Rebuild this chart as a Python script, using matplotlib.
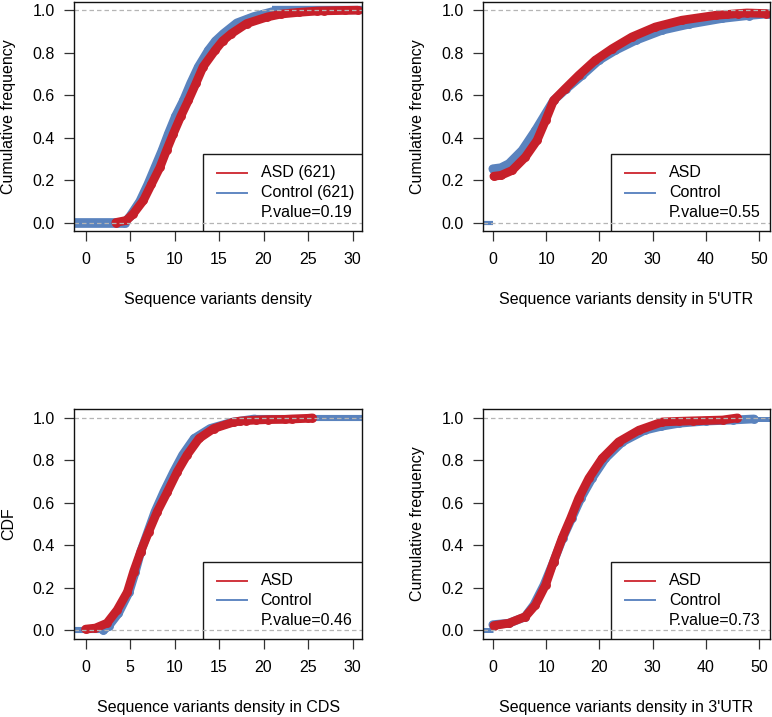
import matplotlib
matplotlib.use("Agg")
import matplotlib.pyplot as plt
from matplotlib.patches import Rectangle

plt.rcParams['font.family'] = ['Liberation Sans', 'DejaVu Sans']

RED = "#C7202A"
BLUE = "#5A83BE"

# ---------------- data ----------------
# Panel 1: Sequence variants density
p1_asd_x = [3.4, 4.6, 5.36, 6.5, 7.4, 8.36, 9.1, 9.86, 10.7, 11.55, 12.4, 13.2, 14.55, 15.4, 16.4, 18.1, 20.4, 22.0, 24.0, 26.0, 26.8, 29.2, 30.6]
p1_asd_y = [0.0, 0.01, 0.041, 0.104, 0.18, 0.26, 0.34, 0.418, 0.50, 0.575, 0.655, 0.733, 0.811, 0.855, 0.89, 0.937, 0.968, 0.982, 0.99, 0.996, 0.997, 0.999, 1.0]
p1_ctl_x = [4.4, 5.0, 6.1, 7.0, 7.8, 8.6, 9.3, 10.1, 11.0, 11.8, 12.67, 13.8, 14.6, 15.5, 17.0, 18.9, 21.0]
p1_ctl_y = [0.0, 0.03, 0.10, 0.18, 0.26, 0.34, 0.418, 0.50, 0.575, 0.655, 0.733, 0.811, 0.855, 0.89, 0.94, 0.97, 0.993]

# Panel 2: 5'UTR
p2_asd_x = [0.2, 1.5, 3.6, 6.1, 8.3, 9.9, 11.4, 13.6, 16.1, 19.2, 22.4, 26.1, 30.5, 35.5, 41.8, 44.0, 46.0, 47.7, 51.3]
p2_asd_y = [0.218, 0.222, 0.245, 0.308, 0.387, 0.481, 0.575, 0.631, 0.693, 0.764, 0.819, 0.874, 0.921, 0.953, 0.976, 0.98, 0.984, 0.987, 0.984]
p2_ctl_x = [0.0, 1.5, 3.0, 5.5, 8.0, 9.9, 11.4, 13.8, 16.75, 19.9, 23.0, 26.8, 31.8, 36.8, 43.0, 48.0, 51.8]
p2_ctl_y = [0.253, 0.258, 0.277, 0.34, 0.434, 0.513, 0.575, 0.63, 0.693, 0.764, 0.811, 0.858, 0.906, 0.934, 0.961, 0.975, 0.983]

# Panel 3: CDS
p3_asd_x = [0.0, 1.1, 2.4, 3.55, 4.7, 5.4, 6.2, 7.1, 8.05, 9.2, 10.3, 11.4, 12.75, 14.4, 16.7, 17.4, 18.0, 19.2, 20.5, 22.4, 23.2, 25.0, 25.5]
p3_asd_y = [0.005, 0.01, 0.033, 0.095, 0.18, 0.276, 0.37, 0.464, 0.558, 0.652, 0.746, 0.825, 0.903, 0.95, 0.981, 0.985, 0.987, 0.99, 0.992, 0.993, 0.995, 0.998, 1.0]
p3_ctl_x = [2.0, 2.6, 3.7, 4.9, 5.6, 6.2, 7.0, 7.8, 8.8, 9.9, 10.9, 12.2, 14.0, 16.5, 19.0]
p3_ctl_y = [0.0, 0.02, 0.08, 0.18, 0.276, 0.37, 0.464, 0.558, 0.652, 0.746, 0.825, 0.903, 0.95, 0.98, 0.995]

# Panel 4: 3'UTR
p4_asd_x = [0.2, 3.0, 6.1, 8.0, 9.9, 11.4, 13.0, 14.6, 16.1, 18.0, 20.5, 23.6, 27.4, 31.8, 35.0, 37.5, 43.1, 45.9]
p4_asd_y = [0.022, 0.033, 0.064, 0.119, 0.213, 0.323, 0.433, 0.527, 0.621, 0.715, 0.809, 0.887, 0.942, 0.981, 0.984, 0.986, 0.99, 1.0]
p4_ctl_x = [0.0, 3.0, 6.0, 7.7, 9.6, 11.4, 13.1, 14.8, 16.5, 18.6, 21.1, 24.3, 28.5, 31.5, 35.0, 40.0, 45.0, 49.0]
p4_ctl_y = [0.026, 0.033, 0.062, 0.119, 0.213, 0.323, 0.433, 0.527, 0.621, 0.715, 0.809, 0.887, 0.942, 0.96, 0.975, 0.985, 0.99, 0.995]

x_labels = ["Sequence variants density", "Sequence variants density in 5'UTR",
            "Sequence variants density in CDS", "Sequence variants density in 3'UTR"]
y_labels = ["Cumulative frequency", "Cumulative frequency", "CDF", "Cumulative frequency"]
legend_names = [["ASD (621)", "Control (621)"], ["ASD", "Control"], ["ASD", "Control"], ["ASD", "Control"]]
p_values = ["0.19", "0.55", "0.46", "0.73"]
x_ticks = [[0, 5, 10, 15, 20, 25, 30], [0, 10, 20, 30, 40, 50],
           [0, 5, 10, 15, 20, 25, 30], [0, 10, 20, 30, 40, 50]]
y_ticks = [0.0, 0.2, 0.4, 0.6, 0.8, 1.0]

asd_series = [(p1_asd_x, p1_asd_y), (p2_asd_x, p2_asd_y), (p3_asd_x, p3_asd_y), (p4_asd_x, p4_asd_y)]
ctl_series = [(p1_ctl_x, p1_ctl_y), (p2_ctl_x, p2_ctl_y), (p3_ctl_x, p3_ctl_y), (p4_ctl_x, p4_ctl_y)]

# ---------------- layout ----------------
fig = plt.figure(figsize=(7.72, 7.17), dpi=100)
W, H = 772, 717
boxes = [(74, 231, 288.3), (482.7, 231, 287.3), (74, 638.7, 288.3), (482.7, 638.7, 287.3)]
ax_h = 229.3
xlims = [(-1.3, 31.1), (-1.9, 52.0), (-1.3, 31.1), (-1.9, 52.0)]
ext_left_lw = [7.0, 3.0, 4.4, 3.6]
ext_right = [True, False, True, True]
ext_right_level = [1.0, None, 1.0, 0.995]
ext_right_lw = [6.0, 0, 4.4, 3.6]

FS = 11.5
LW = 6.3
MS = 6.4

for i in range(4):
    left, bottom, width = boxes[i]
    ax = fig.add_axes([left / W, (H - bottom) / H, width / W, ax_h / H])
    ax.set_xlim(*xlims[i])
    ax.set_ylim(-0.04, 1.04)

    cx, cy = ctl_series[i]
    ax_x, ax_y = asd_series[i]

    # control extensions
    ax.plot([xlims[i][0], cx[0]], [0, 0], color=BLUE, lw=ext_left_lw[i], solid_capstyle='butt', zorder=2)
    if ext_right[i]:
        ax.plot([cx[-1], xlims[i][1]], [ext_right_level[i], ext_right_level[i]], color=BLUE,
                lw=ext_right_lw[i], solid_capstyle='butt', zorder=2)
    # control curve
    ax.plot(cx, cy, color=BLUE, lw=LW, solid_capstyle='round', solid_joinstyle='round', zorder=3)
    ax.plot(cx, cy, 'o', color=BLUE, ms=MS, mec='none', zorder=3)
    # ASD curve
    ax.plot(ax_x, ax_y, color=RED, lw=LW, solid_capstyle='round', solid_joinstyle='round', zorder=4)
    ax.plot(ax_x, ax_y, 'o', color=RED, ms=MS, mec='none', zorder=4)

    # legend box
    x0 = 0.446
    ytop = 0.335
    ax.add_patch(Rectangle((x0, -0.05), 1.1 - x0, ytop + 0.05, transform=ax.transAxes,
                           facecolor='white', edgecolor='#1a1a1a', lw=1.0, zorder=5, clip_on=True))
    ax.plot([0.495, 0.599], [0.253, 0.253], transform=ax.transAxes, color="#D0343C", lw=1.4, zorder=6)
    ax.plot([0.495, 0.599], [0.167, 0.167], transform=ax.transAxes, color="#6087C2", lw=1.4, zorder=6)
    ax.text(0.6476, 0.253, legend_names[i][0], transform=ax.transAxes, fontsize=FS,
            va='center', ha='left', zorder=6)
    ax.text(0.6476, 0.167, legend_names[i][1], transform=ax.transAxes, fontsize=FS,
            va='center', ha='left', zorder=6)
    ax.text(0.6476, 0.0806, "P.value=" + p_values[i], transform=ax.transAxes, fontsize=FS,
            va='center', ha='left', zorder=6)

    # dashed reference lines
    for lv in (0.0, 1.0):
        ax.axhline(lv, color='#B5B5B5', lw=0.9, dashes=(3.6, 2.4), zorder=7)

    ax.set_xticks(x_ticks[i])
    ax.set_yticks(y_ticks)
    ax.set_xticklabels([str(t) for t in x_ticks[i]])
    ax.set_yticklabels(["%.1f" % t for t in y_ticks])
    ax.tick_params(axis='x', length=7.2, width=0.9, pad=8.0, labelsize=FS, color='#333333')
    ax.tick_params(axis='y', length=7.2, width=0.9, pad=6.5, labelsize=FS, color='#333333')
    for sp in ax.spines.values():
        sp.set_linewidth(1.0)
        sp.set_color('#111111')
        sp.set_zorder(10)

    ax.text(0.5, -0.30, x_labels[i], transform=ax.transAxes, fontsize=FS, ha='center', va='center')
    ax.text(-0.228, 0.5, y_labels[i], transform=ax.transAxes, fontsize=FS, ha='center', va='center',
            rotation=90)

fig.savefig("out.png", dpi=100)
